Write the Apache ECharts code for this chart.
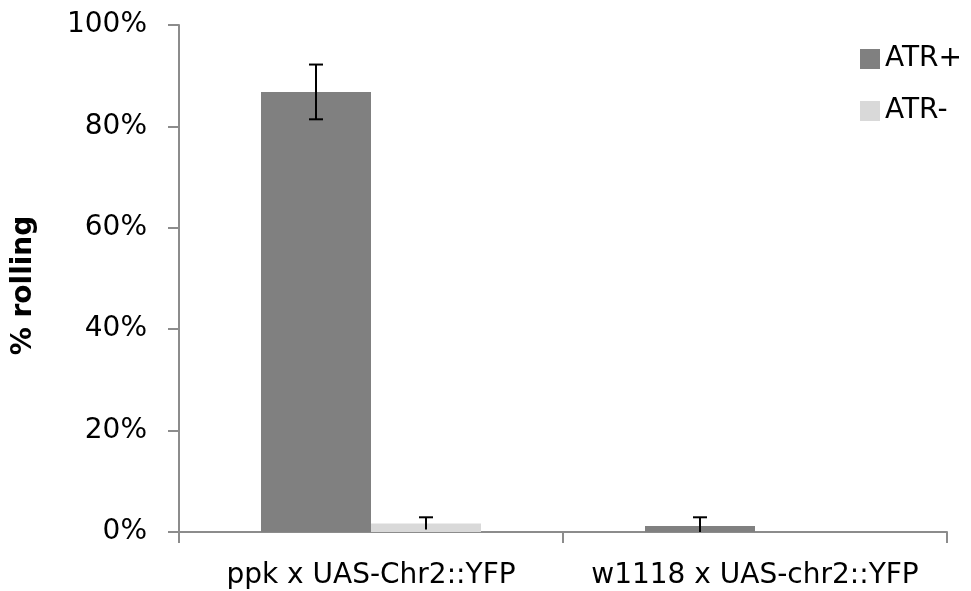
<!DOCTYPE html>
<html>
<head>
<meta charset="utf-8">
<script src="https://cdn.jsdelivr.net/npm/echarts@6/dist/echarts.min.js"></script>
<style>
  html, body { margin: 0; padding: 0; background: #ffffff; }
  #chart { width: 971px; height: 591px; }
</style>
</head>
<body>
<div id="chart"></div>
<script>
// ---- data ----
const categories = ['ppk x UAS-Chr2::YFP', 'w1118 x UAS-chr2::YFP'];
const seriesNames = ['ATR+', 'ATR-'];
const atrPlus = [86.8, 1.2];
const atrMinus = [1.7, 0];
const atrPlusErr = [5.4, 1.7];
const atrMinusErr = [1.2, 0];
const yTicks = [0, 20, 40, 60, 80, 100];

// ---- styling ----
const FONT = 'DejaVu Sans';
const BAR_W = 110;
const colors = ['#808080', '#d9d9d9'];
const axisColor = '#8c8c8c';

function errorSeries(values, errs, offset) {
  const data = values.map((v, i) => [i, v, errs[i]]);
  return {
    type: 'custom',
    silent: true,
    z: 10,
    data: data,
    encode: { x: 0, y: 1 },
    renderItem: function (params, api) {
      const i = api.value(0);
      const v = api.value(1);
      const e = api.value(2);
      if (!(e > 0)) return null;
      const hi = v + e;
      const lo = Math.max(0, v - e);
      const pHi = api.coord([i, hi]);
      const pLo = api.coord([i, lo]);
      const x = pHi[0] + offset;
      const cap = 7;
      const style = { stroke: '#000000', lineWidth: 2 };
      const children = [
        { type: 'line', shape: { x1: x, y1: pHi[1], x2: x, y2: pLo[1] }, style: style },
        { type: 'line', shape: { x1: x - cap, y1: pHi[1], x2: x + cap, y2: pHi[1] }, style: style }
      ];
      if (v - e > 1) {
        children.push({ type: 'line', shape: { x1: x - cap, y1: pLo[1], x2: x + cap, y2: pLo[1] }, style: style });
      }
      return { type: 'group', children: children };
    }
  };
}

const chart = echarts.init(document.getElementById('chart'), null, { renderer: 'canvas' });
chart.setOption({
  animation: false,
  backgroundColor: '#ffffff',
  grid: { left: 179, right: 24, top: 25, bottom: 59 },
  legend: {
    orient: 'vertical',
    right: 4,
    top: 40,
    itemWidth: 20,
    itemHeight: 20,
    itemGap: 24,
    icon: 'rect',
    data: seriesNames,
    textStyle: { fontFamily: FONT, fontSize: 28, color: '#000000' }
  },
  xAxis: {
    type: 'category',
    data: categories,
    axisLine: { lineStyle: { color: axisColor, width: 2 } },
    axisTick: { show: true, interval: 0, length: 11, alignWithLabel: false, lineStyle: { color: axisColor, width: 2 } },
    axisLabel: { interval: 0, hideOverlap: false, fontFamily: FONT, fontSize: 28, color: '#000000', margin: 30 },
    splitLine: { show: false }
  },
  yAxis: {
    type: 'value',
    min: yTicks[0],
    max: yTicks[yTicks.length - 1],
    interval: yTicks[1] - yTicks[0],
    name: '% rolling',
    nameLocation: 'middle',
    nameGap: 141,
    nameRotate: 90,
    nameTextStyle: { fontFamily: FONT, fontSize: 28, fontWeight: 'bold', color: '#000000', padding: [0, 14, 0, 0] },
    axisLine: { show: true, lineStyle: { color: axisColor, width: 2 } },
    axisTick: { show: true, length: 11, lineStyle: { color: axisColor, width: 2 } },
    axisLabel: { fontFamily: FONT, fontSize: 28, color: '#000000', margin: 32, formatter: '{value}%' },
    splitLine: { show: false }
  },
  series: [
    { name: seriesNames[0], type: 'bar', data: atrPlus, barWidth: BAR_W, barGap: '0%', itemStyle: { color: colors[0] } },
    { name: seriesNames[1], type: 'bar', data: atrMinus, barWidth: BAR_W, barGap: '0%', itemStyle: { color: colors[1] } },
    errorSeries(atrPlus, atrPlusErr, -BAR_W / 2),
    errorSeries(atrMinus, atrMinusErr, BAR_W / 2)
  ]
});
</script>
</body>
</html>
